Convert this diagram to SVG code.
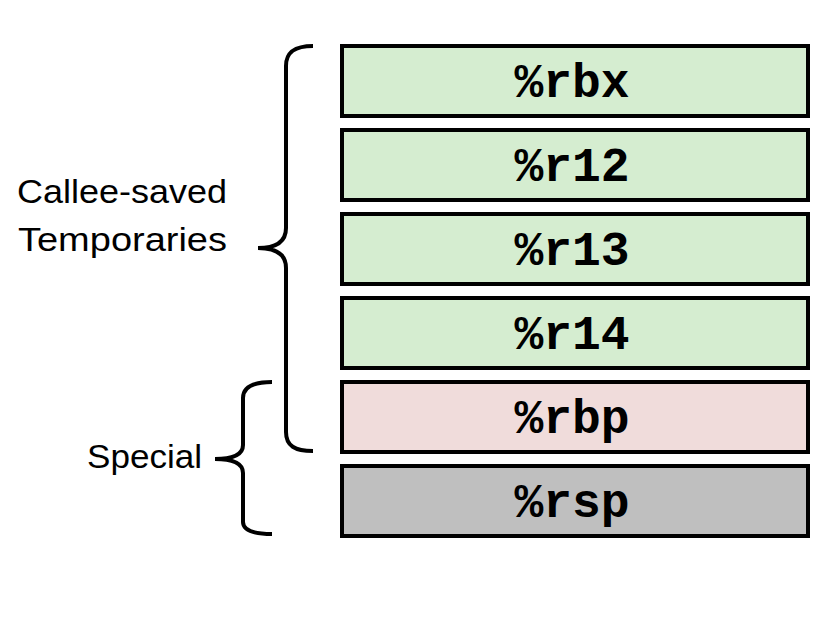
<svg xmlns="http://www.w3.org/2000/svg" width="833" height="633" viewBox="0 0 833 633">
<style>
.reg{stroke:#000;stroke-width:4}
.green{fill:#d5edd0}
.pink{fill:#f0dcdb}
.gray{fill:#bfbfbf}
.rt{font-family:"Liberation Mono","Courier New",monospace;font-weight:bold;font-size:48px;text-anchor:middle;fill:#000}
.lbl{font-family:"Liberation Sans",Arial,sans-serif;font-size:34px;fill:#000}
.brace{fill:none;stroke:#000;stroke-width:4;stroke-linecap:butt}
</style>
<rect width="833" height="633" fill="#fff"/>
<g id="rbx"><rect class="reg green" x="342" y="46" width="466" height="70"/><text class="rt" x="572" y="97">%rbx</text></g>
<g id="r12"><rect class="reg green" x="342" y="130" width="466" height="70"/><text class="rt" x="572" y="181">%r12</text></g>
<g id="r13"><rect class="reg green" x="342" y="214" width="466" height="70"/><text class="rt" x="572" y="265">%r13</text></g>
<g id="r14"><rect class="reg green" x="342" y="298" width="466" height="70"/><text class="rt" x="572" y="349">%r14</text></g>
<g id="rbp"><rect class="reg pink" x="342" y="382" width="466" height="70"/><text class="rt" x="572" y="433">%rbp</text></g>
<g id="rsp"><rect class="reg gray" x="342" y="466" width="466" height="70"/><text class="rt" x="572" y="517">%rsp</text></g>
<g id="callee">
<path class="brace" d="M313,46 C295,46 286,52 286,66 L286,228 C286,242 276,248 258,248 C276,248 286,254 286,268 L286,432 C286,446 295,451 313,451"/>
<text class="lbl" x="17" y="202.5" textLength="210" lengthAdjust="spacingAndGlyphs">Callee-saved</text>
<text class="lbl" x="18" y="250.5" textLength="209" lengthAdjust="spacingAndGlyphs">Temporaries</text>
</g>
<g id="special">
<path class="brace" d="M272,382 C253,382 243,387 243,398 L243,445 C243,454 234,459 215,459 C234,459 243,464 243,473 L243,522 C243,530 253,534 272,534"/>
<text class="lbl" x="87" y="467.5" textLength="115" lengthAdjust="spacingAndGlyphs">Special</text>
</g>
</svg>
